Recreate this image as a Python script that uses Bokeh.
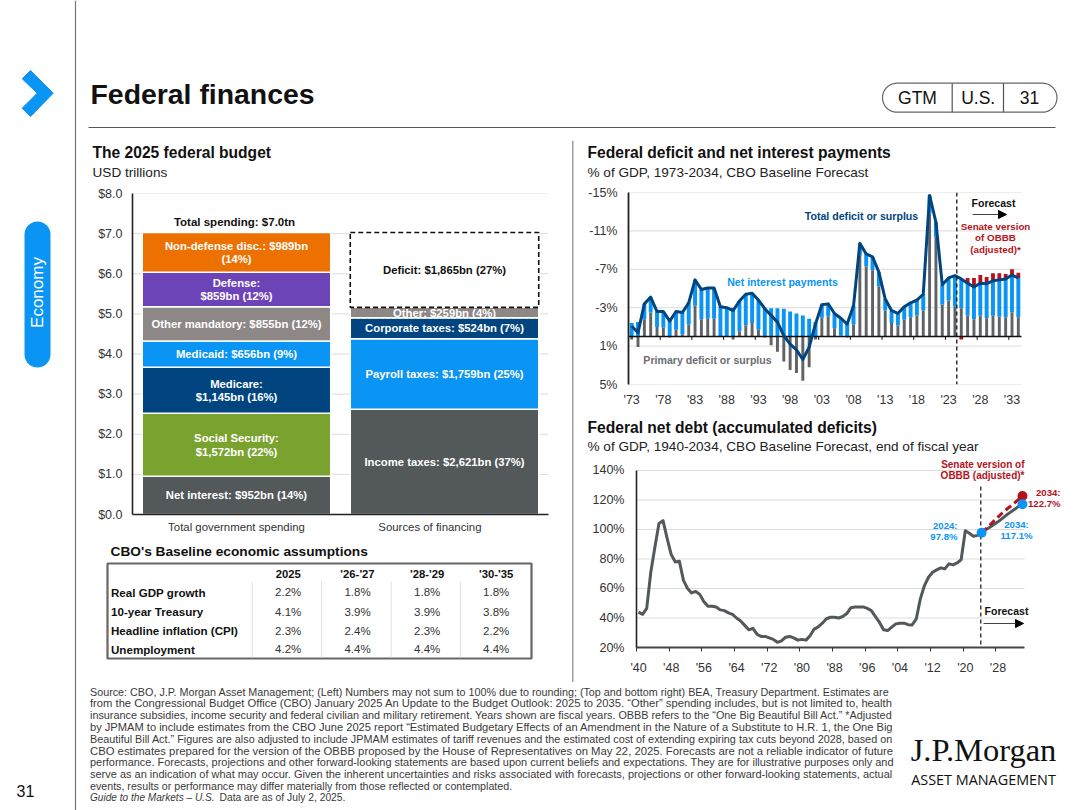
import numpy as np
from bokeh.plotting import figure
from bokeh.layouts import row, column
from bokeh.models import Range1d, Label, FixedTicker, Arrow, NormalHead, ColumnDataSource
from bokeh.core.properties import value
from bokeh.embed import file_html
from bokeh.resources import INLINE

SANS = "Liberation Sans"
BLUE = "#0A95F5"; NAVY = "#00457F"; GREY = "#53585B"; RED = "#B5121B"

# ---------- data ----------
spend_names = ["Net interest", "Social Security", "Medicare", "Medicaid", "Other mandatory", "Defense", "Non-defense disc."]
spend_values = [952, 1572, 1145, 656, 855, 859, 989]
spend_colors = [GREY, "#7AA22F", NAVY, BLUE, "#8D8785", "#6D43B8", "#ED7100"]
spend_text = ["Net interest: $952bn (14%)", "Social Security:|$1,572bn (22%)", "Medicare:|$1,145bn (16%)",
              "Medicaid: $656bn (9%)", "Other mandatory: $855bn (12%)", "Defense:|$859bn (12%)",
              "Non-defense disc.: $989bn|(14%)"]
finance_names = ["Income taxes", "Payroll taxes", "Corporate taxes", "Other", "Deficit"]
finance_values = [2621, 1759, 524, 259, 1865]
finance_colors = [GREY, BLUE, NAVY, "#8D8785", "#FFFFFF"]
finance_text = ["Income taxes: $2,621bn (37%)", "Payroll taxes: $1,759bn (25%)", "Corporate taxes: $524bn (7%)",
                "Other: $259bn (4%)", "Deficit: $1,865bn (27%)"]
budget_columns = ["Total government spending", "Sources of financing"]

table_head = ["2025", "'26-'27", "'28-'29", "'30-'35"]
table_rows = ["Real GDP growth", "10-year Treasury", "Headline inflation (CPI)", "Unemployment"]
table_vals = [["2.2%", "1.8%", "1.8%", "1.8%"], ["4.1%", "3.9%", "3.9%", "3.8%"],
              ["2.3%", "2.4%", "2.3%", "2.2%"], ["4.2%", "4.4%", "4.4%", "4.4%"]]

deficit_years = list(range(1973, 2035))
total_deficit = [1.1, 0.4, 3.4, 4.1, 2.6, 2.6, 1.6,
                 2.6, 2.5, 3.5, 5.9, 4.9, 5.05, 5.05, 3.1, 3.0, 2.7,
                 3.7, 4.4, 4.5, 3.8, 2.9, 2.2, 1.5, 0.1, -0.8, -1.4,
                 -2.4, -1.1, 1.3, 3.3, 3.4, 2.4, 1.9, 1.3, 3.2, 9.7,
                 8.6, 8.3, 6.7, 3.9, 2.7, 2.4, 3.1, 3.5, 3.8, 4.4,
                 14.7, 11.9, 5.4, 6.1, 6.35, 6.0, 5.55, 5.15, 5.55, 5.5,
                 5.8, 5.9, 6.0, 6.4, 6.1]
primary_deficit = [-0.3, -1.1, 1.8, 2.5, 1.0, 0.9, -0.1,
                   0.7, 0.2, 1.25, 3.2, 1.8, 1.85, 1.85, 0.05, 0.05, -0.3,
                   0.55, 1.15, 1.4, 0.7, -0.1, -0.9, -1.6, -2.6, -3.5, -3.8,
                   -4.6, -3.2, -0.3, 1.95, 2.1, 0.85, 0.1, -0.1, 1.25, 8.4,
                   7.3, 6.9, 5.2, 2.7, 1.4, 1.15, 1.75, 2.0, 2.2, 2.7,
                   12.8, 10.4, 3.3, 3.75, 3.1, 2.95, 2.15, 1.8, 2.15, 1.9,
                   2.15, 2.05, 2.0, 2.5, 2.0]
net_interest = [1.4, 1.5, 1.6, 1.6, 1.6, 1.7, 1.7,
                1.9, 2.3, 2.3, 2.7, 3.1, 3.2, 3.2, 3.05, 2.95, 3.0,
                3.15, 3.25, 3.1, 3.1, 3.0, 2.95, 2.95, 2.9, 2.6, 2.4,
                2.2, 1.85, 1.5, 1.35, 1.3, 1.55, 1.8, 1.4, 1.95, 1.3,
                1.3, 1.4, 1.5, 1.2, 1.3, 1.25, 1.35, 1.5, 1.6, 1.7,
                1.9, 1.5, 2.1, 2.35, 3.25, 3.05, 3.4, 3.35, 3.4, 3.6,
                3.65, 3.85, 4.0, 3.9, 4.1]
senate_years = list(range(2026, 2035))
senate_deficit = [6.1, 6.1, 6.4, 6.2, 6.6, 6.6, 6.5, 7.0, 6.65]
senate_2025_surplus = 0.3
deficit_ticks = [-15, -11, -7, -3, 1, 5]

debt_years = list(range(1940, 2035))
net_debt = [44, 42.5, 46.5, 71, 88, 104, 106, 94, 83, 78,
            78.5, 65.5, 60, 57, 58, 56, 51, 48, 48, 47.5,
            45.5, 45, 43.5, 42.5, 40, 38, 35, 32, 33, 29,
            27.5, 27.5, 26.5, 25.5, 23.5, 24.5, 27, 27.5, 26.5, 25,
            25.5, 25, 28, 32.5, 34, 36.5, 39.5, 40.5, 40.5, 40,
            41, 43, 47, 47.5, 47.5, 47.5, 46.5, 45, 41, 37,
            32, 31.5, 33.8, 36, 36.5, 36.5, 35.5, 35.3, 39.4, 53,
            62, 67.6, 71, 72.6, 74, 73.3, 76.7, 76, 77.3, 79.6,
            99.2, 97.4, 95.4, 96, 97.8, 99.8, 101.5, 103.4, 105.2, 107.4,
            109.6, 111.6, 113.6, 115.5, 117.1]
senate_debt_years = list(range(2024, 2035))
senate_debt = [97.8, 100.3, 103, 105.8, 108.4, 111, 113.4, 115.6, 117.8, 120.2, 122.7]

footer_lines = [
 "Source: CBO, J.P. Morgan Asset Management; (Left) Numbers may not sum to 100% due to rounding; (Top and bottom right) BEA, Treasury Department. Estimates are",
 "from the Congressional Budget Office (CBO) January 2025 An Update to the Budget Outlook: 2025 to 2035. \u201cOther\u201d spending includes, but is not limited to, health",
 "insurance subsidies, income security and federal civilian and military retirement. Years shown are fiscal years. OBBB refers to the \u201cOne Big Beautiful Bill Act.\u201d *Adjusted",
 "by JPMAM to include estimates from the CBO June 2025 report \u201cEstimated Budgetary Effects of an Amendment in the Nature of a Substitute to H.R. 1, the One Big",
 "Beautiful Bill Act.\u201d Figures are also adjusted to include JPMAM estimates of tariff revenues and the estimated cost of extending expiring tax cuts beyond 2028, based on",
 "CBO estimates prepared for the version of the OBBB proposed by the House of Representatives on May 22, 2025. Forecasts are not a reliable indicator of future",
 "performance. Forecasts, projections and other forward-looking statements are based upon current beliefs and expectations. They are for illustrative purposes only and",
 "serve as an indication of what may occur. Given the inherent uncertainties and risks associated with forecasts, projections or other forward-looking statements, actual",
 "events, results or performance may differ materially from those reflected or contemplated.",
]

# ---------- helpers ----------
_w = {" ": 278, "!": 278, "%": 889, "'": 191, "(": 333, ")": 333, "*": 389, ",": 278, "-": 333, ".": 278, ":": 278, ";": 278,
      "\u201c": 333, "\u201d": 333,
      "A": 667, "B": 667, "C": 722, "D": 722, "E": 667, "F": 611, "G": 778, "H": 722, "I": 278, "J": 500, "K": 667, "L": 556,
      "M": 833, "N": 722, "O": 778, "P": 667, "Q": 778, "R": 722, "S": 667, "T": 611, "U": 722, "V": 667, "W": 944, "X": 667,
      "Y": 667, "Z": 611, "a": 556, "b": 556, "c": 500, "d": 556, "e": 556, "f": 278, "g": 556, "h": 556, "i": 222, "j": 222,
      "k": 500, "l": 222, "m": 833, "n": 556, "o": 556, "p": 556, "q": 556, "r": 333, "s": 500, "t": 278, "u": 556, "v": 500,
      "w": 722, "x": 500, "y": 500, "z": 500}

def fit_size(s, width):
    return round(width / (sum(_w.get(c, 556) for c in s) / 1000.0), 2)

def page_fig(x0, y0, x1, y1):
    p = figure(width=x1 - x0, height=y1 - y0, x_range=Range1d(x0, x1), y_range=Range1d(y1, y0),
               x_axis_location=None, y_axis_location=None, output_backend="svg", toolbar_location=None,
               min_border=0, outline_line_color=None, tools="", frame_align=False)
    p.grid.visible = False
    return p

def txt(p, x, y, s, size, color="#222222", style="normal", align="left", font=SANS, angle=0):
    p.text(x=[x], y=[y - 1], text=[s], text_font=value(font), text_font_size=f"{size}px", text_font_style=style,
           text_color=color, text_align=align, text_baseline="middle", angle=angle)

def chart_fig(x0, y0, x1, y1, fx0, fy0, fx1, fy1, xr, yr):
    p = figure(width=x1 - x0, height=y1 - y0, x_range=Range1d(*xr), y_range=Range1d(*yr),
               output_backend="svg", toolbar_location=None, tools="", outline_line_color=None, frame_align=False,
               min_border_left=fx0 - x0, min_border_right=x1 - fx1, min_border_top=fy0 - y0, min_border_bottom=y1 - fy1)
    p.xgrid.visible = False
    p.ygrid.visible = False
    p._map = (lambda px: xr[0] + (px - fx0) / (fx1 - fx0) * (xr[1] - xr[0]),
              lambda py: yr[1] + (py - fy0) / (fy1 - fy0) * (yr[0] - yr[1]))
    for ax in (p.xaxis[0], p.yaxis[0]):
        ax.major_label_text_font = SANS
        ax.major_label_text_font_size = "12.5px"
        ax.major_label_text_color = "#333333"
        ax.major_tick_line_color = None
        ax.minor_tick_line_color = None
        ax.major_tick_out = 0
        ax.major_tick_in = 0
        ax.minor_tick_out = 0
        ax.minor_tick_in = 0
    return p

def grid_lines(p, ticks, a, b):
    n = len(ticks)
    p.segment([a] * n, ticks, [b] * n, ticks, line_color="#DCDCDC", line_width=1)

def lab(p, px, py, s, size, color="#222222", style="bold", align="center"):
    fx, fy = p._map
    p.add_layout(Label(x=fx(px), y=fy(py), text=s, text_font=SANS, text_font_size=f"{size}px", text_font_style=style,
                       text_color=color, text_align=align, text_baseline="middle"))

def arrow(p, x0, x1, py):
    fx, fy = p._map
    p.add_layout(Arrow(end=NormalHead(size=8, fill_color="black", line_color="black"), line_color="#444444", line_width=1,
                       x_start=fx(x0), y_start=fy(py), x_end=fx(x1), y_end=fy(py)))

# ---------- sidebar ----------
side = page_fig(0, 0, 80, 810)
side.patch([30, 52.7, 30, 21.7, 36.7, 21.7], [70, 92.7, 116, 107.7, 92.7, 78.3], fill_color=BLUE, line_color=BLUE)
side.segment([75], [0], [75], [810], line_color="#777777", line_width=1.2)
side.segment([37], [234], [37], [354], line_color=BLUE, line_width=26, line_cap="round")
txt(side, 37, 293, "Economy", 17, color="white", align="center", angle=np.pi / 2)
txt(side, 25, 791, "31", 16, align="center", color="#111111")

# ---------- header ----------
head = page_fig(80, 0, 1080, 140)
txt(head, 90, 94, "Federal finances", 28.4, color="#111111", style="bold")
head.segment([88], [127], [1055], [127], line_color="#555555", line_width=1.2)
t = np.linspace(-np.pi / 2, np.pi / 2, 30)
pill_r = 14.5
px = np.r_[896.5 + pill_r * np.cos(t + np.pi), 1042 + pill_r * np.cos(t), 896.5 + pill_r * np.cos(-np.pi / 2 + np.pi)]
py = np.r_[97.2 - pill_r * np.sin(t), 97.2 + pill_r * np.sin(t), 97.2 + pill_r]
head.line(px, py, line_color="#666666", line_width=1.2)
head.segment([951.7, 1003], [82.7, 82.7], [951.7, 1003], [111.7, 111.7], line_color="#555555", line_width=1.2)
for cx, s in zip([917, 977.7, 1029], ["GTM", "U.S.", "31"]):
    txt(head, cx, 98, s, 17.5, color="#111111", align="center")

# ---------- budget ----------
strip_b = page_fig(80, 140, 570, 185)
txt(strip_b, 92, 153, "The 2025 federal budget", 15.6, color="#111111", style="bold")
txt(strip_b, 92, 173, "USD trillions", 13.6, color="#222222")

bud = chart_fig(80, 185, 570, 540, 132, 193, 548, 514, (0, 2), (0, 8))
grid_lines(bud, list(range(1, 9)), 0, 2)
bud.yaxis.ticker = FixedTicker(ticks=list(range(9)))
bud.yaxis.major_label_overrides = {i: f"${i}.0" for i in range(9)}
bud.yaxis.major_label_standoff = 10
bud.yaxis.axis_line_color = "#222222"; bud.yaxis.axis_line_width = 1.6
bud.xaxis.axis_line_color = "#222222"; bud.xaxis.axis_line_width = 1.6
bud.xaxis.ticker = FixedTicker(ticks=[0.5, 1.43])
bud.xaxis.major_label_overrides = {0.5: budget_columns[0], 1.43: budget_columns[1]}
bud.xaxis.major_label_text_font_size = "11.4px"
bud.xaxis.major_label_standoff = 6

def stack(vals, colors, cx, dashed_last=False):
    tops = np.cumsum(vals) / 1000
    bottoms = tops - np.array(vals) / 1000
    n = len(vals) - (1 if dashed_last else 0)
    src = ColumnDataSource(dict(x=[cx] * n, b=bottoms[:n], t=tops[:n], c=colors[:n]))
    bud.vbar(x="x", bottom="b", top="t", width=0.906, fill_color="c", line_color="white", line_width=1.5, source=src)
    if dashed_last:
        bud.vbar(x=[cx], bottom=[bottoms[n]], top=[tops[n]], width=0.906, fill_color="white",
                 line_color="#111111", line_width=1.6, line_dash="5 3")
    return bottoms, tops

def seg_labels(bottoms, tops, texts, pxc, dark=()):
    for b, t_, s in zip(bottoms, tops, texts):
        ym = 514 - (b + t_) / 2 * 40.125
        parts = s.split("|")
        for k, line in enumerate(parts):
            off = (k - (len(parts) - 1) / 2) * 13.5
            lab(bud, pxc, ym + off, line, 11.3, color="#111111" if s in dark else "white")

b1, t1 = stack(spend_values, spend_colors, 0.5)
b2, t2 = stack(finance_values, finance_colors, 1.5, dashed_last=True)
bud.line([1.047, 1.953], [b2[3], b2[3]], line_color="white", line_width=1.5, line_dash="4 2")
seg_labels(b1, t1, spend_text, 236)
seg_labels(b2, t2, finance_text, 444, dark=(finance_text[-1],))
lab(bud, 234, 221, "Total spending: $7.0tn", 11.5, color="#111111")

# ---------- table ----------
tab = page_fig(80, 540, 570, 680)
txt(tab, 110, 552, "CBO's Baseline economic assumptions", 13.7, color="#111111", style="bold")
tab.quad(left=[107], right=[531], top=[563], bottom=[658], fill_color=None, line_color="#666666", line_width=2.2)
tab.segment([251.7, 321, 390.7, 460], [581] * 4, [251.7, 321, 390.7, 460], [657] * 4, line_color="#E2E2E2", line_width=1)
col_x = [287.7, 357, 426.7, 495.7]
row_y = [592.7, 612, 631, 649.7]
for cx, s in zip(col_x, table_head):
    txt(tab, cx, 574, s, 11.3, color="#111111", style="bold", align="center")
for ry, name, vals in zip(row_y, table_rows, table_vals):
    txt(tab, 110.5, ry, name, 11.6, color="#111111", style="bold")
    for cx, v in zip(col_x, vals):
        txt(tab, cx, ry, v, 11.5, color="#333333", align="center")

# ---------- divider ----------
div = page_fig(570, 140, 574, 682)
div.segment([572.3], [140], [572.3], [682], line_color="#888888", line_width=1.2)

# ---------- deficit ----------
strip_d = page_fig(574, 140, 1080, 180)
txt(strip_d, 587, 153, "Federal deficit and net interest payments", 15.6, color="#111111", style="bold")
txt(strip_d, 587, 173, "% of GDP, 1973-2034, CBO Baseline Forecast", 13.6, color="#222222")

dfc = chart_fig(574, 180, 1080, 410, 628, 192, 1040, 384, (1972.5, 2034.5 + 19 / 6.339), (5, -15))
grid_lines(dfc, deficit_ticks, 1972.5, 2034.5)
dfc.yaxis.ticker = FixedTicker(ticks=deficit_ticks)
dfc.yaxis.major_label_overrides = {v: f"{v}%" for v in deficit_ticks}
dfc.yaxis.major_label_standoff = 11
dfc.yaxis.axis_line_color = "#222222"; dfc.yaxis.axis_line_width = 1.8
dfc.xaxis.axis_line_color = None
xt = deficit_years[::5]
dfc.xaxis.ticker = FixedTicker(ticks=xt)
dfc.xaxis.major_label_overrides = {y: "'" + str(y)[2:] for y in xt}
dfc.xaxis.major_label_standoff = 8
yrs = np.array(deficit_years, dtype=float)
prim = np.array(primary_deficit)
base = np.maximum(prim, 0)
top = base + np.array(net_interest)
sy = np.array(senate_years, dtype=float)
stack_top = top[np.isin(deficit_years, senate_years)]
dfc.vbar(x=sy, bottom=-stack_top, top=-np.array(senate_deficit), width=0.6, fill_color=RED, line_color=None)
dfc.vbar(x=[2025], bottom=[0], top=[senate_2025_surplus], width=0.6, fill_color=RED, line_color=None)
dfc.vbar(x=yrs, bottom=-base, top=-top, width=0.62, fill_color=BLUE, line_color=None)
dfc.vbar(x=yrs, bottom=0, top=-prim, width=0.46, fill_color="#5F6366", line_color=None)
dfc.line([1972.5, 2034.5], [0, 0], line_color="#111111", line_width=1.6)
tick_x = np.array(deficit_years[4:-1:5]) + 0.5
dfc.segment(tick_x, 0, tick_x, 0.35, line_color="#111111", line_width=1)
dfc.line(yrs, -np.array(total_deficit), line_color=NAVY, line_width=3, line_join="round")
fx, fy = dfc._map
dfc.line([fx(956.3)] * 2, [-15, 5], line_color="#111111", line_width=1.3, line_dash="4 3")
lab(dfc, 861, 215, "Total deficit or surplus", 10.6, color=NAVY)
lab(dfc, 782, 281, "Net interest payments", 10.6, color=BLUE)
lab(dfc, 707, 359, "Primary deficit or surplus", 10.6, color="#6A6E70")
lab(dfc, 993, 202, "Forecast", 10.5, color="#111111")
arrow(dfc, 972, 1006, 214)
for yy, s in zip([226, 237, 249], ["Senate version", "of OBBB", "(adjusted)*"]):
    lab(dfc, 995, yy, s, 9.8, color=RED)

# ---------- debt ----------
strip_n = page_fig(574, 410, 1080, 456)
txt(strip_n, 587, 428, "Federal net debt (accumulated deficits)", 15.6, color="#111111", style="bold")
txt(strip_n, 587, 447, "% of GDP, 1940-2034, CBO Baseline Forecast, end of fiscal year", 13.6, color="#222222")

dbt = chart_fig(574, 456, 1080, 680, 636, 458, 1072, 647, (1939.5, 2034.5 + 48 / 4.084), (20, 140 + 12 / 1.4775))
yt = [20, 40, 60, 80, 100, 120, 140]
grid_lines(dbt, yt, 1939.5, 2034.5)
dbt.yaxis.ticker = FixedTicker(ticks=yt)
dbt.yaxis.major_label_overrides = {v: f"{v}%" for v in yt}
dbt.yaxis.major_label_standoff = 12
dbt.yaxis.axis_line_color = "#222222"; dbt.yaxis.axis_line_width = 1.6
dbt.yaxis.bounds = (20, 140)
dbt.xaxis.axis_line_color = "#444444"; dbt.xaxis.axis_line_width = 2
dbt.xaxis.bounds = (1939.5, 2034.5)
xd = debt_years[::8]
dbt.xaxis.ticker = FixedTicker(ticks=xd, minor_ticks=[y - 0.5 for y in xd])
dbt.xaxis.major_label_overrides = {y: "'" + str(y)[2:] for y in xd}
dbt.xaxis.major_label_standoff = 9
dbt.xaxis.minor_tick_line_color = "#333333"
dbt.xaxis.minor_tick_out = 4
dbt.xaxis.minor_tick_in = 0
dbt.line(debt_years, net_debt, line_color=GREY, line_width=3, line_join="round")
dbt.line(senate_debt_years, senate_debt, line_color=RED, line_width=3, line_dash="7 4")
fx, fy = dbt._map
dbt.line([fx(980.3)] * 2, [fy(486), 20], line_color="#111111", line_width=1.2, line_dash="4 3")
dbt.scatter([senate_debt_years[-1]], [senate_debt[-1]], size=10, fill_color=RED, line_color=None)
dbt.scatter([debt_years[84], debt_years[-1]], [net_debt[84], net_debt[-1]], size=10, fill_color=BLUE, line_color=None)
lab(dbt, 1024, 464, "Senate version of", 10, color=RED, align="right")
lab(dbt, 1024, 475, "OBBB (adjusted)*", 10, color=RED, align="right")
lab(dbt, 1060, 492, "2034:", 9.6, color=RED, align="right")
lab(dbt, 1060, 503, "122.7%", 9.6, color=RED, align="right")
lab(dbt, 1016, 524, "2034:", 9.6, color=BLUE)
lab(dbt, 1016, 535, "117.1%", 9.6, color=BLUE)
lab(dbt, 957, 525, "2024:", 9.6, color=BLUE, align="right")
lab(dbt, 957, 536, "97.8%", 9.6, color=BLUE, align="right")
lab(dbt, 1006, 610, "Forecast", 10.5, color="#111111")
arrow(dbt, 983, 1023, 623)

# ---------- footer ----------
foot = page_fig(80, 680, 1080, 810)
for i, s in enumerate(footer_lines):
    size = fit_size(s, 422.5 if i == 8 else 803.5)
    txt(foot, 89.5, 690 + i * 11.8, s, size, color="#3A3A3A")
txt(foot, 89.5, 796, "Guide to the Markets \u2013 U.S.", 10.1, color="#3A3A3A", style="italic")
txt(foot, 219, 796, "Data are as of July 2, 2025.", 10.3, color="#3A3A3A")
txt(foot, 983, 748, "J.P.Morgan", 32.5, color="#111111", align="center", font="Liberation Serif")
txt(foot, 983, 778, "ASSET MANAGEMENT", 14.4, color="#111111", align="center", font="Open Sans", style="normal")

left = column(strip_b, bud, tab, spacing=0)
right = column(strip_d, dfc, strip_n, dbt, spacing=0)
body = column(head, row(left, div, right, spacing=0), foot, spacing=0)
page = row(side, body, spacing=0)
open("out.html", "w").write(file_html(page, INLINE))
